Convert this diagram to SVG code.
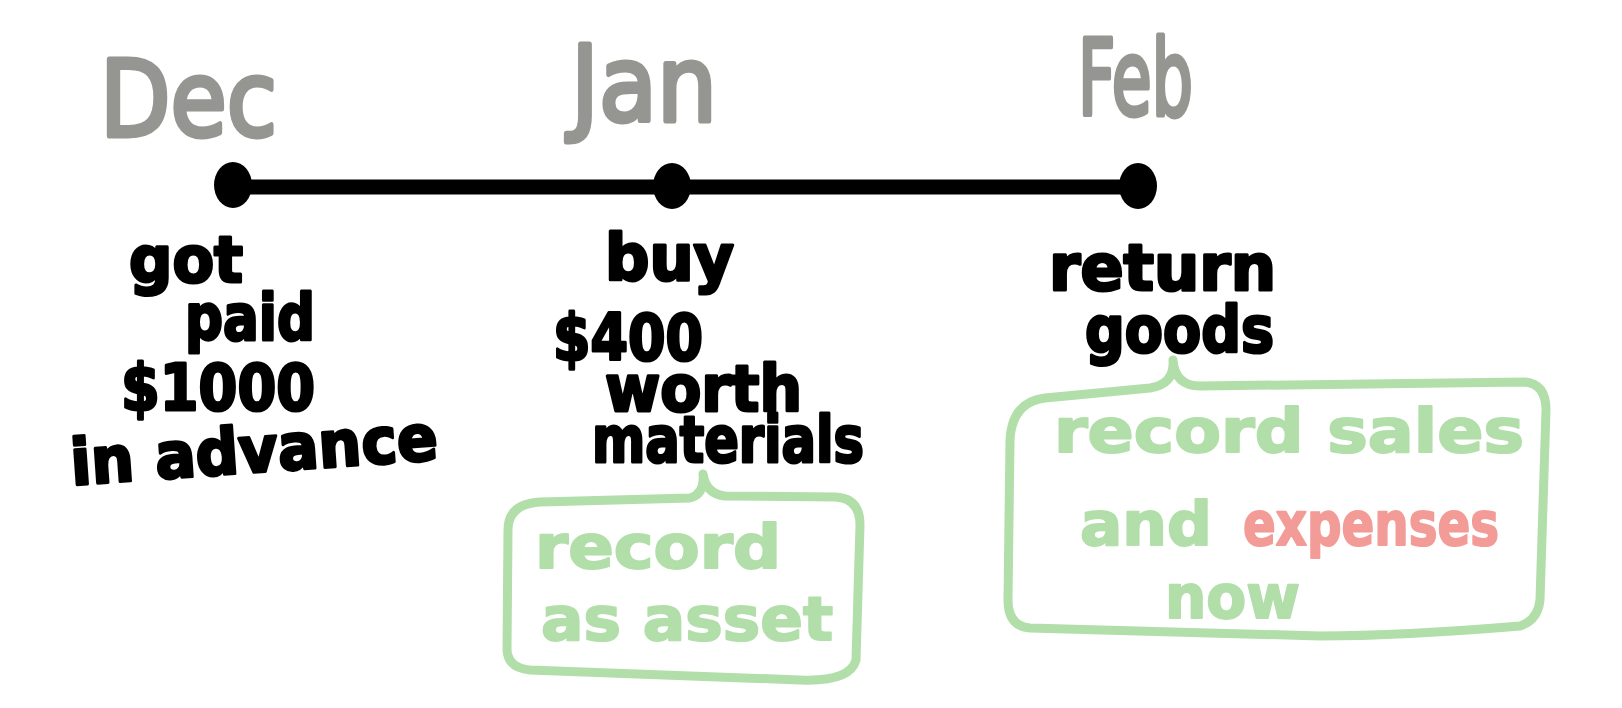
<svg xmlns="http://www.w3.org/2000/svg" width="1622" height="708" viewBox="0 0 1622 708">
<style>
.month{font-family:"DejaVu Sans",sans-serif;font-size:106px;fill:#959592;stroke:#959592;stroke-width:5;stroke-linejoin:round}
.ink{font-family:"DejaVu Sans",sans-serif;font-weight:bold;font-size:64px;fill:#000;stroke:#000;stroke-width:3;stroke-linejoin:round}
.note{font-family:"DejaVu Sans",sans-serif;font-weight:bold;font-size:60px;fill:#b1dea9;stroke:#b1dea9;stroke-width:2;stroke-linejoin:round}
.red{fill:#f29b97;stroke:#f29b97}
.box{fill:none;stroke:#b1dea9;stroke-width:9;stroke-linecap:round;stroke-linejoin:round}
.dot{fill:#000}
</style>
<rect width="1622" height="708" fill="#fff"/>
<g id="connectors">
  <line x1="233" y1="187" x2="1140" y2="187" stroke="#000" stroke-width="15"/>
</g>
<g id="dec">
  <text class="month" x="100" y="136" textLength="177" lengthAdjust="spacingAndGlyphs">Dec</text>
  <ellipse class="dot" cx="233" cy="185" rx="19" ry="23"/>
  <text class="ink" x="129" y="282" textLength="114" lengthAdjust="spacingAndGlyphs">got</text>
  <text class="ink" x="185" y="340" textLength="130" lengthAdjust="spacingAndGlyphs">paid</text>
  <text class="ink" x="121" y="410" textLength="194" lengthAdjust="spacingAndGlyphs">$1000</text>
  <text class="ink" x="72" y="485" textLength="368" lengthAdjust="spacingAndGlyphs" transform="rotate(-4 72 485)">in advance</text>
</g>
<g id="jan">
  <text class="month" x="571" y="121" textLength="146" lengthAdjust="spacingAndGlyphs">Jan</text>
  <ellipse class="dot" cx="672" cy="186" rx="19" ry="23"/>
  <text class="ink" x="605" y="280" textLength="129" lengthAdjust="spacingAndGlyphs">buy</text>
  <text class="ink" x="553" y="360" textLength="150" lengthAdjust="spacingAndGlyphs">$400</text>
  <text class="ink" x="605" y="411" textLength="197" lengthAdjust="spacingAndGlyphs">worth</text>
  <text class="ink" x="592" y="462" textLength="272" lengthAdjust="spacingAndGlyphs">materials</text>
</g>
<g id="feb">
  <text class="month" x="1078" y="115" textLength="115" lengthAdjust="spacingAndGlyphs">Feb</text>
  <ellipse class="dot" cx="1138" cy="186" rx="19" ry="23"/>
  <text class="ink" x="1049" y="290" textLength="227" lengthAdjust="spacingAndGlyphs">return</text>
  <text class="ink" x="1085" y="352" textLength="189" lengthAdjust="spacingAndGlyphs">goods</text>
</g>
<g id="note-asset">
  <path class="box" d="M 703 474 Q 705 494 690 498 L 540 502 Q 508 504 508 530 L 507 650 Q 508 668 530 670 L 800 680 Q 850 682 856 660 L 860 525 Q 860 498 835 497 L 725 496 Q 706 494 703 474"/>
  <text class="note" x="535" y="568" textLength="246" lengthAdjust="spacingAndGlyphs">record</text>
  <text class="note" x="541" y="640" textLength="292" lengthAdjust="spacingAndGlyphs">as asset</text>
</g>
<g id="note-sales">
  <path class="box" d="M 1173 360 Q 1175 384 1150 388 L 1045 398 Q 1012 402 1010 440 L 1008 600 Q 1008 626 1030 628 L 1320 636 Q 1400 636 1520 626 Q 1538 620 1540 600 L 1546 410 Q 1546 384 1525 382 L 1200 386 Q 1175 386 1173 360"/>
  <text class="note" x="1054" y="452" textLength="470" lengthAdjust="spacingAndGlyphs">record sales</text>
  <text class="note" x="1080" y="545" textLength="132" lengthAdjust="spacingAndGlyphs">and</text>
  <text class="note red" x="1243" y="545" textLength="256" lengthAdjust="spacingAndGlyphs">expenses</text>
  <text class="note" x="1165" y="618" textLength="135" lengthAdjust="spacingAndGlyphs">now</text>
</g>
</svg>
